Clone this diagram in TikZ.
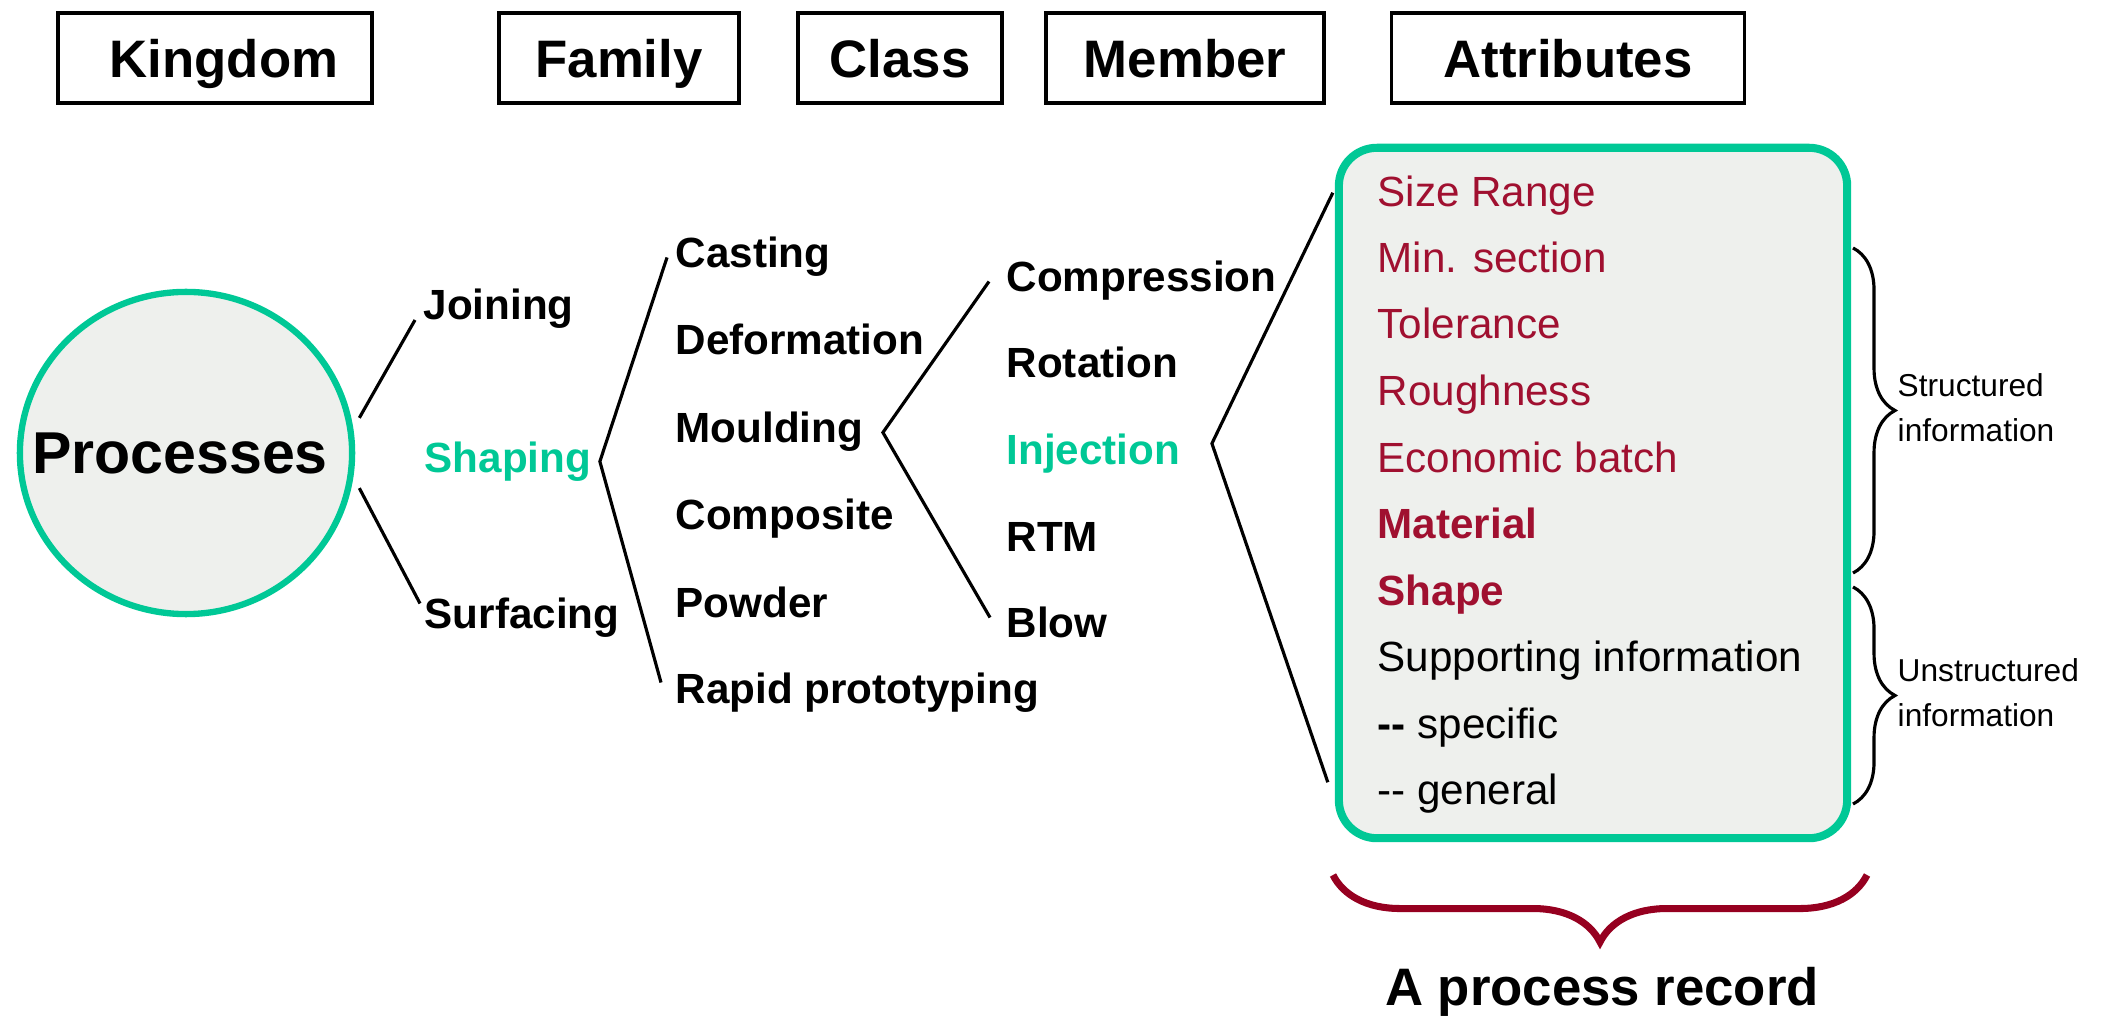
\documentclass[tikz,border=0pt]{standalone}
\usepackage{fontspec}
\setmainfont{Liberation Sans}
\usetikzlibrary{shapes.geometric,decorations.pathreplacing}

\definecolor{recgreen}{RGB}{0,200,150}
\definecolor{recfill}{RGB}{238,240,237}
\definecolor{recred}{RGB}{160,16,48}
\definecolor{bracered}{RGB}{150,0,32}

\tikzset{
  hdr/.style={draw, line width=1pt, minimum height=0.9cm, inner sep=0pt,
    text height=0.38cm, text depth=0cm, font=\bfseries\fontsize{15}{18}\selectfont},
  lbl/.style={anchor=base west, inner xsep=0.08cm, inner ysep=0.03cm,
    text height=0.3cm, text depth=0.09cm, font=\bfseries\fontsize{12}{14}\selectfont},
  att/.style={anchor=base west, inner sep=0pt, font=\fontsize{12}{14}\selectfont},
  note/.style={anchor=west, align=left, inner sep=0.04cm, font=\fontsize{9}{12.8}\selectfont},
  branch/.style={line width=0.9pt},
}

\begin{document}
\begin{tikzpicture}[x=0.01cm, y=-0.01cm]
  \useasboundingbox (0,0) rectangle (2104,1016);

  % headings
  \node[hdr, minimum width=3.14cm] (kng) at (215,58) {\hspace{0.18cm}Kingdom};
  \node[hdr, minimum width=2.4cm] (fam) at (619,58) {Family};
  \node[hdr, minimum width=2.04cm] (cls) at (900,58) {Class};
  \node[hdr, minimum width=2.78cm] (mbr) at (1185,58) {Member};
  \node[hdr, minimum width=3.53cm] (att) at (1568,58) {Attributes};

  % kingdom
  \node[ellipse, draw=recgreen, fill=recfill, line width=1.8pt, inner sep=0pt,
    minimum width=3.32cm, minimum height=3.22cm] (proc) at (186,453) {};
  \node[inner sep=0pt, font=\bfseries\fontsize{16.8}{20}\selectfont] (ptxt) at ([shift={(-6,0)}]proc.center) {Processes};

  % families
  \node[lbl] (join) at (415,320) {Joining};
  \node[lbl, text=recgreen] (shp) at (416,472) {Shaping};
  \node[lbl] (srf) at (416,628) {Surfacing};

  % classes
  \node[lbl] (cst) at (667,268) {Casting};
  \node[lbl] (dfm) at (667,355) {Deformation};
  \node[lbl] (mld) at (667,443) {Moulding};
  \node[lbl] (cmp) at (667,530) {Composite};
  \node[lbl] (pwd) at (667,617) {Powder};
  \node[lbl] (rpd) at (667,703) {Rapid prototyping};

  % members
  \node[lbl] (cmpr) at (998,292) {Compression};
  \node[lbl] (rot) at (998,378) {Rotation};
  \node[lbl, text=recgreen] (inj) at (998,465) {Injection};
  \node[lbl] (rtm) at (998,551) {RTM};
  \node[lbl] (blw) at (998,637) {Blow};

  % the record
  \node[draw=recgreen, fill=recfill, line width=2.3pt, rounded corners=0.38cm,
    minimum width=5.08cm, minimum height=6.9cm, inner sep=0pt] (rec) at (1593,493) {};
  \node[att, text=recred] (szr) at (1377,207) {Size Range};
  \node[att, text=recred] (mns) at (1377,273) {Min. section};
  \node[att, text=recred] (tol) at (1377,339) {Tolerance};
  \node[att, text=recred] (rgh) at (1377,406) {Roughness};
  \node[att, text=recred] (ecb) at (1377,472) {Economic batch};
  \node[att, text=recred, font=\bfseries\fontsize{12}{14}\selectfont] (mat) at (1377,538) {Material};
  \node[att, text=recred, font=\bfseries\fontsize{12}{14}\selectfont] (shpe) at (1377,605) {Shape};
  \node[att] (sup) at (1377,671) {Supporting information};
  \node[att] (spc) at (1377,738) {{\bfseries -{}-} specific};
  \node[att] (gen) at (1377,804) {-{}- general};

  % branches
  \draw[branch] ([shift={(8,0)}]proc.12) -- (join.base west);
  \draw[branch] ([shift={(8,0)}]proc.-12) -- ([shift={(4,-14)}]srf.west);
  \draw[branch] (cst.west) -- (shp.east) -- ([shift={(-6,-10)}]rpd.west);
  \draw[branch] ([shift={(-9,0)}]cmpr.west) -- ([shift={(11,0)}]mld.east)
    -- ([shift={(-8,-9)}]blw.west);
  \draw[branch] ([shift={(-2,49)}]rec.north west) -- ([shift={(23,-11)}]inj.east)
    -- ([shift={(-7,-60)}]rec.south west);

  % braces
  \draw[decorate, decoration={brace, amplitude=0.42cm}, line width=0.9pt] (1853,248) -- (1853,573);
  \draw[decorate, decoration={brace, amplitude=0.42cm}, line width=0.9pt] (1853,587) -- (1853,804);
  \node[note] (strc) at (1893,408) {Structured\\information};
  \node[note] (ustr) at (1893,693) {Unstructured\\information};

  \draw[decorate, decoration={brace, amplitude=0.67cm}, draw=bracered, line width=2pt] (1867,875) -- (1333,875);
  \node[anchor=base, inner sep=0pt, font=\bfseries\fontsize{15}{18}\selectfont] (prec) at (1602,1005) {A process record};
\end{tikzpicture}
\end{document}
